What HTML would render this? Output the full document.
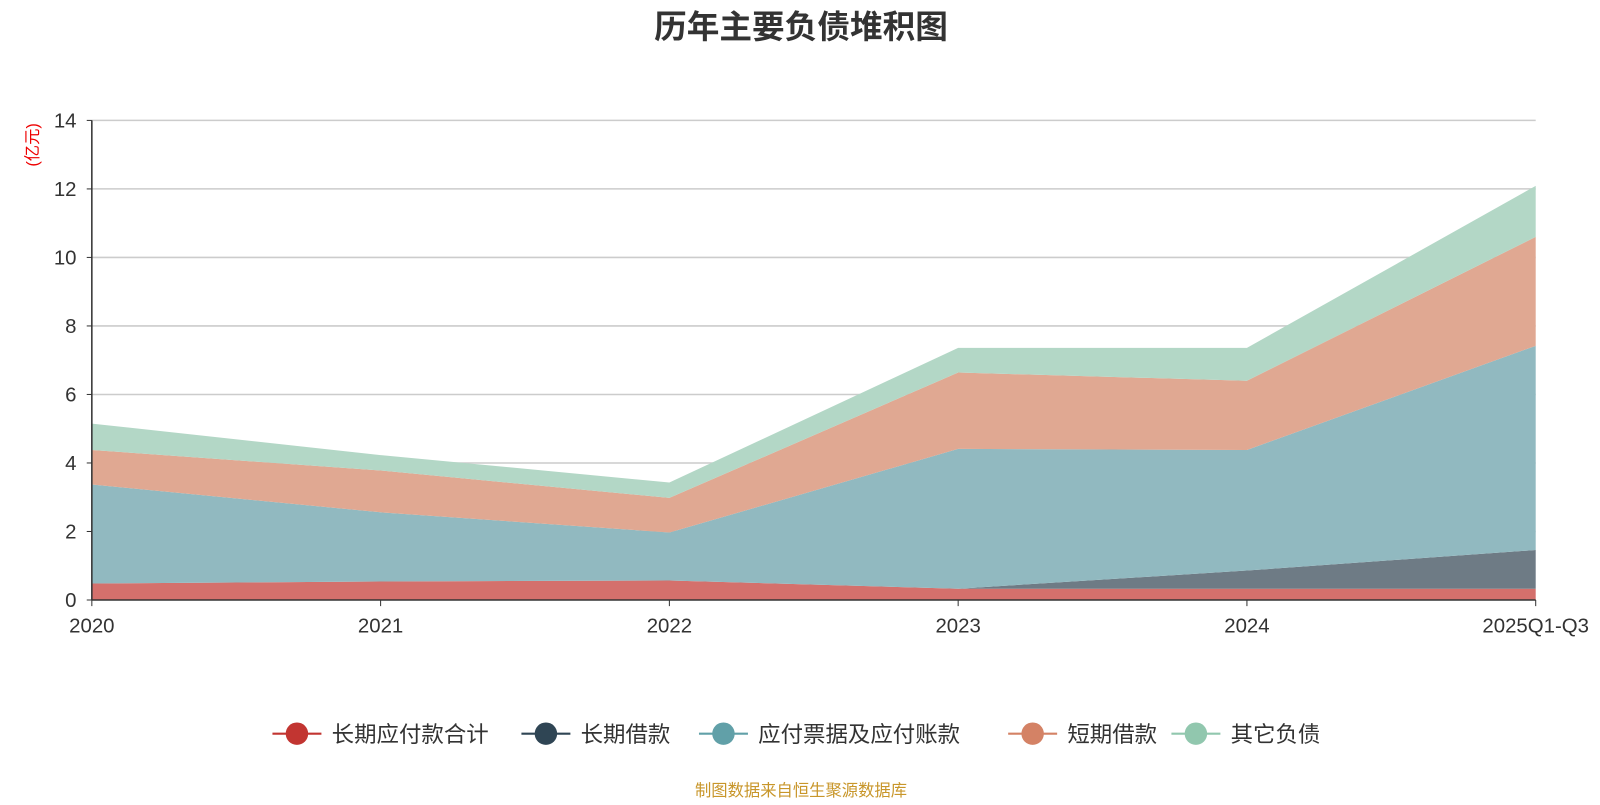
<!DOCTYPE html>
<html><head><meta charset="utf-8">
<style>
body{margin:0;background:#fff;font-family:"Liberation Sans","Noto Sans CJK SC",sans-serif;overflow:hidden;}
svg text{font-family:"Liberation Sans","Noto Sans CJK SC",sans-serif;}
</style></head>
<body>
<svg id="chart" width="1600" height="800">
<g transform="scale(1.0204)">
<text x="785" y="37" text-anchor="middle" font-size="32" font-weight="bold" fill="#333">历年主要负债堆积图</text>
<text transform="translate(37,142) rotate(-90)" text-anchor="middle" font-size="16" fill="#e00">(亿元)</text>
<g id="grid"></g><g id="areas"></g><g id="axes"></g><g id="legend"></g>
<text x="785" y="780" text-anchor="middle" font-size="16" fill="#c8962a">制图数据来自恒生聚源数据库</text>
</g>
</svg>
<script>
const categories=["2020","2021","2022","2023","2024","2025Q1-Q3"];
const seriesNames=["长期应付款合计","长期借款","应付票据及应付账款","短期借款","其它负债"];
const longPayable=[0.48,0.54,0.57,0.33,0.33,0.33];
const longLoan=[0,0,0,0,0.53,1.13];
const notesPayable=[2.89,2.02,1.40,4.08,3.52,5.96];
const shortLoan=[1.01,1.22,1.01,2.23,2.02,3.18];
const otherDebt=[0.77,0.45,0.45,0.72,0.96,1.49];
const yTicks=[0,2,4,6,8,10,12,14];
const data=[longPayable,longLoan,notesPayable,shortLoan,otherDebt];
const fills=["#d4706c","#6e7b85","#91b9c0","#e0a892","#b3d7c6"];
const dots=["#c23531","#2f4554","#61a0a8","#d48265","#91c7ae"];
const NS="http://www.w3.org/2000/svg";
const x0=90,x1=1505,yb=588,yt=118;
const xs=i=>x0+(x1-x0)*i/(categories.length-1);
const ys=v=>yb-(yb-yt)*v/14;
function mk(t,a,p){const e=document.createElementNS(NS,t);for(const k in a)e.setAttribute(k,a[k]);p.appendChild(e);return e;}
const grid=document.getElementById('grid'),axes=document.getElementById('axes'),areas=document.getElementById('areas'),legend=document.getElementById('legend');
yTicks.forEach(v=>{
 if(v>0){const l=mk('line',{x1:x0,x2:x1,y1:ys(v),y2:ys(v),stroke:'#ccc','stroke-width':1.5},grid);
 }
 const t=mk('text',{x:x0-15,y:ys(v)+7,'text-anchor':'end','font-size':20,fill:'#333'},axes);t.textContent=v;
 
 mk('line',{x1:x0-5,x2:x0,y1:ys(v),y2:ys(v),stroke:'#333'},axes);
});
let base=categories.map(()=>0);
data.forEach((s,k)=>{
 const top=base.map((b,i)=>b+s[i]);
 let d="M"+top.map((v,i)=>xs(i)+","+ys(v)).join("L");
 for(let i=categories.length-1;i>=0;i--)d+="L"+xs(i)+","+ys(base[i]);
 const p=mk('path',{d:d+"Z",fill:fills[k]},areas);
 
 base=top;
});
mk('line',{x1:x0,x2:x0,y1:yt,y2:yb,stroke:'#333','stroke-width':1.5},axes);
mk('line',{x1:x0,x2:x1,y1:yb,y2:yb,stroke:'#333','stroke-width':1.5},axes);
categories.forEach((c,i)=>{
 mk('line',{x1:xs(i),x2:xs(i),y1:yb,y2:yb+6,stroke:'#333'},axes);
 const t=mk('text',{x:xs(i),y:yb+32,'text-anchor':'middle','font-size':20,fill:'#333'},axes);t.textContent=c;
 
});
const lx=[267,511,685,988,1148];
seriesNames.forEach((n,k)=>{
 const g=mk('g',{},legend);
 
 mk('line',{x1:lx[k],x2:lx[k]+48,y1:719,y2:719,stroke:dots[k],'stroke-width':2},g);
 mk('circle',{cx:lx[k]+24,cy:719,r:11,fill:dots[k]},g);
 const t=mk('text',{x:lx[k]+58,y:727,'font-size':22,fill:'#333'},g);t.textContent=n;
});
</script>
</body></html>
